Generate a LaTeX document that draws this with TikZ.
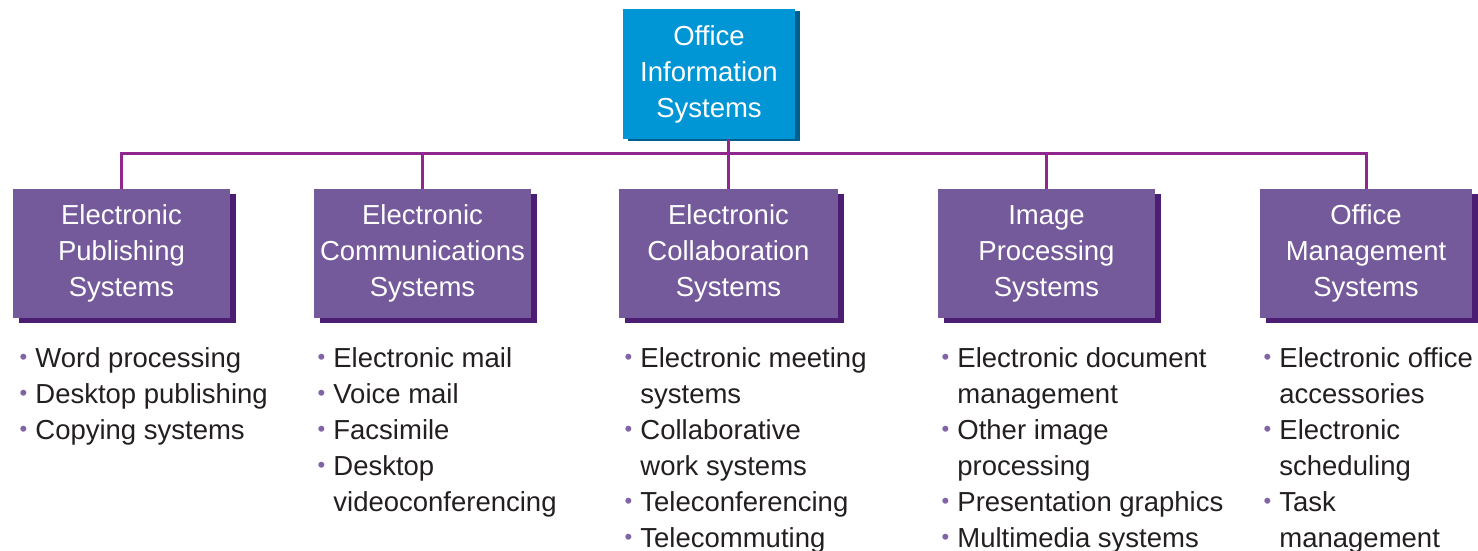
\documentclass[tikz,border=0pt]{standalone}
\usepackage{fontspec}
\setmainfont{Liberation Sans}
\usepackage{xcolor}
\usepackage{tikz}
\usetikzlibrary{positioning, shadows}
\definecolor{oiscyan}{RGB}{0,150,214}
\definecolor{oisshadow}{RGB}{0,95,140}
\definecolor{syspurple}{RGB}{117,90,155}
\definecolor{sysshadow}{RGB}{76,30,115}
\definecolor{linkpurple}{RGB}{145,38,143}
\definecolor{bulletpurple}{RGB}{128,100,165}
\definecolor{textdark}{RGB}{35,31,32}
\newcommand{\bul}{\llap{\raisebox{1.5pt}{\fontsize{11}{11}\selectfont\textcolor{bulletpurple}{•}}\hspace{4pt}}}

\begin{document}
\begin{tikzpicture}[
  x=0.5pt, y=-0.5pt,
  font=\fontsize{13.75}{18}\selectfont,
  topbox/.style={rectangle, fill=oiscyan, text=white, align=center, inner sep=0pt,
    minimum width=86pt, minimum height=65pt,
    general shadow={fill=oisshadow, shadow xshift=2.5pt, shadow yshift=-1pt}},
  sysbox/.style={rectangle, fill=syspurple, text=white, align=center, inner sep=0pt,
    minimum width=108.5pt, minimum height=64.5pt,
    general shadow={fill=sysshadow, shadow xshift=3pt, shadow yshift=-2.5pt}},
  itemlist/.style={anchor=north west, align=left, inner sep=0pt, text=textdark},
  link/.style={draw=linkpurple, line width=1.5pt},
]
\useasboundingbox (0,0) rectangle (1478,551);

% === Top: Office Information Systems ===
\node[topbox] (ois) at (709,74) {Office\\Information\\Systems};

% === Second level boxes ===
\node[sysbox] (pub)    at (121.5,253.5) {Electronic\\Publishing\\Systems};
\node[sysbox] (comm)   at (422.5,253.5) {Electronic\\Communications\\Systems};
\node[sysbox, minimum width=109.5pt] (collab) at (728.5,253.5) {Electronic\\Collaboration\\Systems};
\node[sysbox] (img)    at (1046.5,253.5) {Image\\Processing\\Systems};
\node[sysbox, minimum width=106pt] (mgmt) at (1366,253.5) {Office\\Management\\Systems};

% === Connectors ===
\coordinate (bus) at (0,154);
\draw[link] (ois.south -| collab.north) -- (collab.north);
\draw[link] (pub.north) -- (pub.north |- bus) -- (mgmt.north |- bus) -- (mgmt.north);
\foreach \n in {comm, img}
  \draw[link] (\n.north) -- (\n.north |- bus);

% === Item lists ===
\node[itemlist] (pubList) at (35,347)
  {\bul Word processing\\ \bul Desktop publishing\\ \bul Copying systems};
\node[itemlist] (commList) at (333,347)
  {\bul Electronic mail\\ \bul Voice mail\\ \bul Facsimile\\ \bul Desktop\\ videoconferencing};
\node[itemlist] (collabList) at (640,347)
  {\bul Electronic meeting\\ systems\\ \bul Collaborative\\ work systems\\ \bul Teleconferencing\\ \bul Telecommuting};
\node[itemlist] (imgList) at (957,347)
  {\bul Electronic document\\ management\\ \bul Other image\\ processing\\ \bul Presentation graphics\\ \bul Multimedia systems};
\node[itemlist] (mgmtList) at (1279,347)
  {\bul Electronic office\\ accessories\\ \bul Electronic\\ scheduling\\ \bul Task\\ management};

\end{tikzpicture}
\end{document}
